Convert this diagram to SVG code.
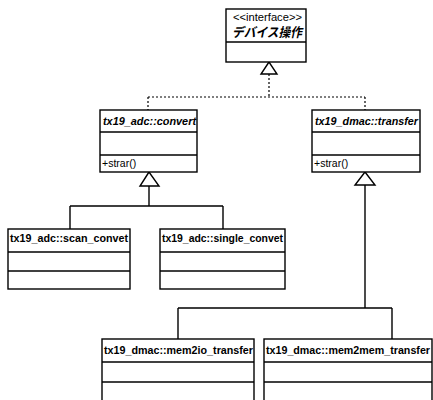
<svg xmlns="http://www.w3.org/2000/svg" width="433" height="400" viewBox="0 0 433 400">
<style>
.box{fill:#fff;stroke:#000;stroke-width:1.4}
.sep{stroke:#000;stroke-width:1.4}
.t{font-family:"Liberation Sans","Noto Sans CJK JP",sans-serif;font-size:10.5px;font-weight:bold;fill:#000}
.r{font-weight:normal}
.i{font-style:italic}
.dot{fill:none;stroke:#000;stroke-width:1.2;stroke-dasharray:2 2}
.ln{fill:none;stroke:#000;stroke-width:1.4}
.tri{fill:#fff;stroke:#000;stroke-width:1.4}
</style>
<rect width="433" height="400" fill="#fff"/>
<g id="connectors">
<path class="dot" d="M269,74 V97 M148,97 H365 M148,97 V110 M365,97 V110"/>
<polygon class="tri" points="269,62 261,74 277,74"/>
<path class="ln" d="M149,186 V206 M70,206 H223 M70,206 V229 M223,206 V229"/>
<polygon class="tri" points="149,172 140,186 159,186"/>
<path class="ln" d="M365,185 V308 M178,308 H392 M178,308 V339 M392,308 V339"/>
<polygon class="tri" points="365,172 355,185 375,185"/>
</g>
<g id="interface">
<rect class="box" x="226" y="9" width="80" height="53"/>
<line class="sep" x1="226" y1="42" x2="306" y2="42"/>
<text class="t r" x="233" y="21" style="font-size:11.5px" textLength="69" lengthAdjust="spacingAndGlyphs">&lt;&lt;interface&gt;&gt;</text>
<text class="t i" x="232" y="37" style="font-size:13px" textLength="70" lengthAdjust="spacingAndGlyphs">デバイス操作</text>
</g>
<g id="convert">
<rect class="box" x="100" y="110" width="97" height="62"/>
<line class="sep" x1="100" y1="132" x2="197" y2="132"/>
<line class="sep" x1="100" y1="155" x2="197" y2="155"/>
<text class="t i" x="103" y="125" textLength="93" lengthAdjust="spacingAndGlyphs">tx19_adc::convert</text>
<text class="t r" x="102" y="167">+strar()</text>
</g>
<g id="transfer">
<rect class="box" x="312" y="110" width="108" height="62"/>
<line class="sep" x1="312" y1="132" x2="420" y2="132"/>
<line class="sep" x1="312" y1="155" x2="420" y2="155"/>
<text class="t i" x="315" y="125" textLength="103" lengthAdjust="spacingAndGlyphs">tx19_dmac::transfer</text>
<text class="t r" x="314" y="167">+strar()</text>
</g>
<g id="scan_convet">
<rect class="box" x="8" y="229" width="122" height="60"/>
<line class="sep" x1="8" y1="252" x2="130" y2="252"/>
<line class="sep" x1="8" y1="271" x2="130" y2="271"/>
<text class="t" x="10" y="242" textLength="118" lengthAdjust="spacingAndGlyphs">tx19_adc::scan_convet</text>
</g>
<g id="single_convet">
<rect class="box" x="160" y="229" width="125" height="60"/>
<line class="sep" x1="160" y1="252" x2="285" y2="252"/>
<line class="sep" x1="160" y1="271" x2="285" y2="271"/>
<text class="t" x="162" y="242" textLength="121" lengthAdjust="spacingAndGlyphs">tx19_adc::single_convet</text>
</g>
<g id="mem2io_transfer">
<rect class="box" x="102" y="339" width="152" height="70"/>
<line class="sep" x1="102" y1="362" x2="254" y2="362"/>
<line class="sep" x1="102" y1="382" x2="254" y2="382"/>
<text class="t" x="104" y="354" textLength="149" lengthAdjust="spacingAndGlyphs">tx19_dmac::mem2io_transfer</text>
</g>
<g id="mem2mem_transfer">
<rect class="box" x="264" y="339" width="168" height="70"/>
<line class="sep" x1="264" y1="362" x2="432" y2="362"/>
<line class="sep" x1="264" y1="382" x2="432" y2="382"/>
<text class="t" x="266" y="354" textLength="164" lengthAdjust="spacingAndGlyphs">tx19_dmac::mem2mem_transfer</text>
</g>
</svg>
